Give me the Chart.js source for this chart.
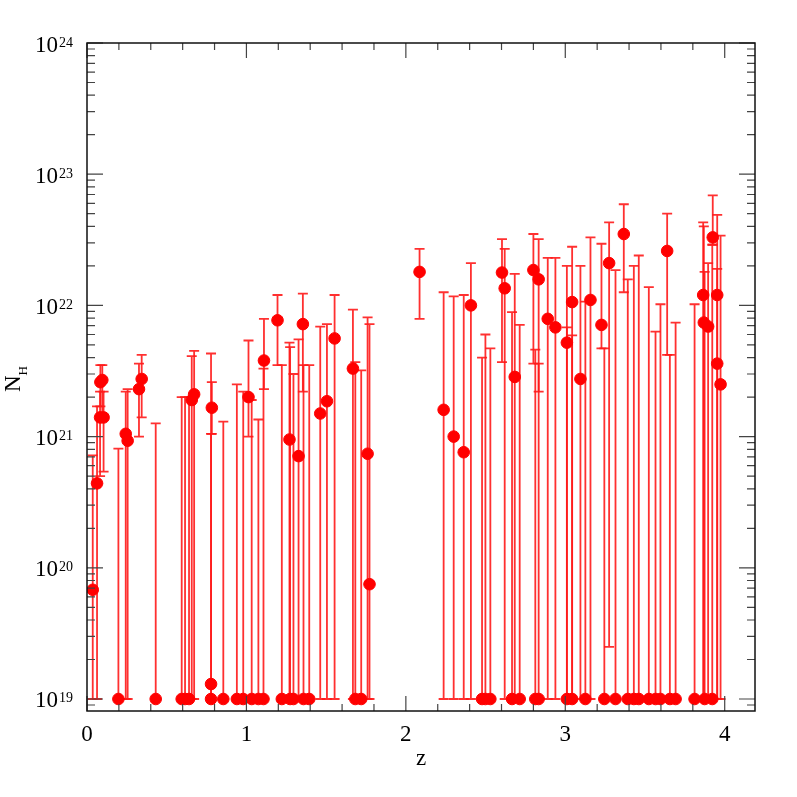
<!DOCTYPE html>
<html lang="en">
<head>
<meta charset="UTF-8">
<title>NH vs z</title>
<script src="https://cdnjs.cloudflare.com/ajax/libs/Chart.js/4.4.1/chart.umd.min.js"></script>
<style>
  body { margin: 0; background: #fff; }
  canvas { display: block; }
</style>
</head>
<body>
<canvas id="chart" width="797" height="797"></canvas>
<script>
// redshift
const z = [
  0.036, 0.063, 0.084, 0.096, 0.082, 0.104, 0.197, 0.243, 0.255, 0.326,
  0.343, 0.431, 0.594, 0.615, 0.640, 0.657, 0.672, 0.778, 0.778, 0.783,
  0.855, 0.940, 0.980, 1.013, 1.033, 1.075, 1.107, 1.110, 1.195, 1.222,
  1.270, 1.274, 1.295, 1.327, 1.354, 1.358, 1.394, 1.463, 1.505, 1.553,
  1.668, 1.683, 1.720, 1.760, 1.772, 2.086, 2.237, 2.300, 2.363, 2.408,
  2.478, 2.499, 2.530, 2.603, 2.620, 2.666, 2.683, 2.714, 2.800, 2.812,
  2.833, 2.833, 2.890, 2.938, 3.010, 3.010, 3.043, 3.043, 3.095, 3.126,
  3.158, 3.227, 3.245, 3.275, 3.315, 3.367, 3.392, 3.430, 3.461, 3.524,
  3.566, 3.597, 3.639, 3.656, 3.692, 3.811, 3.865, 3.869, 3.874, 3.896,
  3.922, 3.925, 3.953, 3.953, 3.974
];
// column density N_H (cm^-2)
const nh = [
  6.8e19, 4.4e20, 2.6e21, 2.7e21, 1.4e21, 1.4e21, 1e19, 1.05e21, 9.3e20, 2.3e21,
  2.75e21, 1e19, 1e19, 1e19, 1e19, 1.9e21, 2.1e21, 1e19, 1.3e19, 1.66e21,
  1e19, 1e19, 1e19, 2.0e21, 1e19, 1e19, 1e19, 3.8e21, 7.7e21, 1e19,
  9.5e20, 1e19, 1e19, 7.1e20, 7.2e21, 1e19, 1e19, 1.5e21, 1.86e21, 5.6e21,
  3.3e21, 1e19, 1e19, 7.4e20, 7.5e19, 1.8e22, 1.6e21, 1.0e21, 7.6e20, 1.0e22,
  1e19, 1e19, 1e19, 1.78e22, 1.35e22, 1e19, 2.85e21, 1e19, 1.86e22, 1e19,
  1.58e22, 1e19, 7.9e21, 6.8e21, 5.2e21, 1e19, 1.06e22, 1e19, 2.75e21, 1e19,
  1.1e22, 7.1e21, 1e19, 2.1e22, 1e19, 3.5e22, 1e19, 1e19, 1e19, 1e19,
  1e19, 1e19, 2.6e22, 1e19, 1e19, 1e19, 1.2e22, 7.4e21, 1e19, 6.9e21,
  1e19, 3.3e22, 1.2e22, 3.6e21, 2.5e21
];
// lower end of error bar
const nhLo = [
  1e19, 1e19, 1.7e21, 1.4e21, 5.0e20, 5.4e20, 1e19, 1e19, 1e19, 1.0e21,
  1.4e21, 1e19, 1e19, 1e19, 1e19, 1e19, 1e19, 1e19, 1e19, 1.05e21,
  1e19, 1e19, 1e19, 1.0e21, 1e19, 1e19, 1e19, 2.3e21, 3.5e21, 1e19,
  1e19, 1e19, 1e19, 1e19, 2.2e21, 1e19, 1e19, 1e19, 1e19, 1e19,
  1e19, 1e19, 1e19, 1e19, 1e19, 7.9e21, 1e19, 1e19, 1e19, 1e19,
  1e19, 1e19, 1e19, 3.7e21, 1e19, 1e19, 1e19, 1e19, 3.6e21, 1e19,
  2.2e21, 1e19, 1e19, 1e19, 1e19, 1e19, 1e19, 1e19, 1e19, 1e19,
  1e19, 4.7e21, 1e19, 2.5e19, 1e19, 1.26e22, 1e19, 1e19, 1e19, 1e19,
  1e19, 1e19, 4.2e21, 1e19, 1e19, 1e19, 1e19, 1e19, 1e19, 1e19,
  1e19, 2.9e22, 1e19, 1e19, 1e19
];
// upper end of error bar
const nhHi = [
  7.2e20, 1.7e21, 3.5e21, 3.5e21, 2.2e21, 2.2e21, 8.1e20, 2.2e21, 2.3e21, 3.6e21,
  4.2e21, 1.26e21, 2.0e21, 2.0e21, 2.0e21, 4.1e21, 4.5e21, 1.05e21, 4.3e21, 2.6e21,
  1.3e21, 2.5e21, 2.2e21, 5.4e21, 1.9e21, 1.35e21, 3.3e21, 7.9e21, 1.2e22, 3.5e21,
  5.2e21, 4.8e21, 3.0e21, 5.5e21, 1.23e22, 3.5e21, 3.5e21, 6.9e21, 7.2e21, 1.2e22,
  9.3e21, 3.7e21, 3.2e21, 8.1e21, 7.2e21, 2.7e22, 1.26e22, 1.17e22, 1.2e22, 2.1e22,
  4.0e21, 6.0e21, 4.7e21, 3.2e22, 2.7e22, 8.9e21, 1.74e22, 7.1e21, 3.5e22, 4.6e21,
  3.2e22, 3.6e21, 2.3e22, 2.3e22, 2.0e22, 6.8e21, 2.8e22, 5.9e21, 2.0e22, 1.07e22,
  3.3e22, 2.95e22, 4.7e21, 4.3e22, 1.86e22, 5.9e22, 1.58e22, 2.0e22, 2.4e22, 1.38e22,
  6.3e21, 1.02e22, 5.0e22, 4.2e21, 7.4e21, 1.02e22, 4.3e22, 4.0e22, 1.8e22, 2.1e22,
  2.9e22, 6.9e22, 4.9e22, 1.9e22, 3.4e22
];

const xMajor = [0, 1, 2, 3, 4];
const yDecades = [19, 20, 21, 22, 23, 24];
const serif = '"Liberation Serif", "DejaVu Serif", serif';

// error bars under the dots
const errorBars = {
  id: 'errorBars',
  beforeDatasetsDraw(chart) {
    const { ctx, scales: { x, y } } = chart;
    ctx.save();
    ctx.strokeStyle = 'rgba(255, 25, 25, 0.9)';
    ctx.lineWidth = 1.8;
    for (let i = 0; i < z.length; i++) {
      const px = x.getPixelForValue(z[i]);
      const yl = y.getPixelForValue(nhLo[i]);
      const yh = y.getPixelForValue(nhHi[i]);
      ctx.beginPath();
      ctx.moveTo(px, yl); ctx.lineTo(px, yh);
      ctx.moveTo(px - 5, yl); ctx.lineTo(px + 5, yl);
      ctx.moveTo(px - 5, yh); ctx.lineTo(px + 5, yh);
      ctx.stroke();
    }
    ctx.restore();
  }
};

// box, inward ticks and labels
const frame = {
  id: 'frame',
  afterDraw(chart) {
    const { ctx, chartArea: a, scales: { x, y } } = chart;
    ctx.save();
    ctx.strokeStyle = '#444';
    ctx.lineWidth = 1.2;
    ctx.beginPath();
    for (let v = 0; v <= 4.2; v += 0.2) {
      const px = x.getPixelForValue(v);
      if (px > a.right) break;
      const major = Math.abs(v - Math.round(v)) < 1e-6;
      const len = major ? 15 : 7;
      ctx.moveTo(px, a.bottom); ctx.lineTo(px, a.bottom - len);
      ctx.moveTo(px, a.top); ctx.lineTo(px, a.top + len);
    }
    for (let d = 18; d <= 24; d++) {
      for (let m = 1; m <= 9; m++) {
        const val = m * Math.pow(10, d);
        if (val < y.min || val > y.max) continue;
        const py = y.getPixelForValue(val);
        const len = m === 1 ? 16 : 8;
        ctx.moveTo(a.left, py); ctx.lineTo(a.left + len, py);
        ctx.moveTo(a.right, py); ctx.lineTo(a.right - len, py);
      }
    }
    ctx.stroke();

    ctx.strokeStyle = '#111';
    ctx.lineWidth = 1.5;
    ctx.strokeRect(a.left, a.top, a.right - a.left, a.bottom - a.top);

    ctx.fillStyle = '#000';
    ctx.textBaseline = 'alphabetic';
    // x tick labels
    ctx.font = '23px ' + serif;
    ctx.textAlign = 'center';
    xMajor.forEach(v => ctx.fillText(String(v), x.getPixelForValue(v), 741));
    ctx.fillText('z', 421, 765);

    // y tick labels 10^n
    yDecades.forEach(d => {
      const py = y.getPixelForValue(Math.pow(10, d));
      ctx.font = '14px ' + serif;
      const ew = ctx.measureText(String(d)).width;
      ctx.textAlign = 'right';
      ctx.fillText(String(d), 73, py + 3.5);
      ctx.font = '23px ' + serif;
      ctx.fillText('10', 73 - ew - 1, py + 8.5);
    });

    // y title N_H
    ctx.translate(20, 392);
    ctx.rotate(-Math.PI / 2);
    ctx.textAlign = 'left';
    ctx.font = '23px ' + serif;
    ctx.fillText('N', 0, 0);
    const nw = ctx.measureText('N').width;
    ctx.font = '13px ' + serif;
    ctx.fillText('H', nw, 7);
    ctx.restore();
  }
};

new Chart(document.getElementById('chart'), {
  type: 'scatter',
  data: {
    datasets: [{
      data: z.map((v, i) => ({ x: v, y: nh[i] })),
      backgroundColor: '#ff0000',
      borderColor: '#ff0000',
      pointRadius: 5.8,
      pointHoverRadius: 5.8
    }]
  },
  options: {
    responsive: false,
    animation: false,
    layout: { padding: { left: 87, right: 42, top: 43, bottom: 86 } },
    plugins: { legend: { display: false }, tooltip: { enabled: false } },
    scales: {
      x: { type: 'linear', min: 0, max: 4.19, display: false },
      y: { type: 'logarithmic', min: 8.1e18, max: 1e24, display: false }
    }
  },
  plugins: [errorBars, frame]
});
</script>
</body>
</html>
